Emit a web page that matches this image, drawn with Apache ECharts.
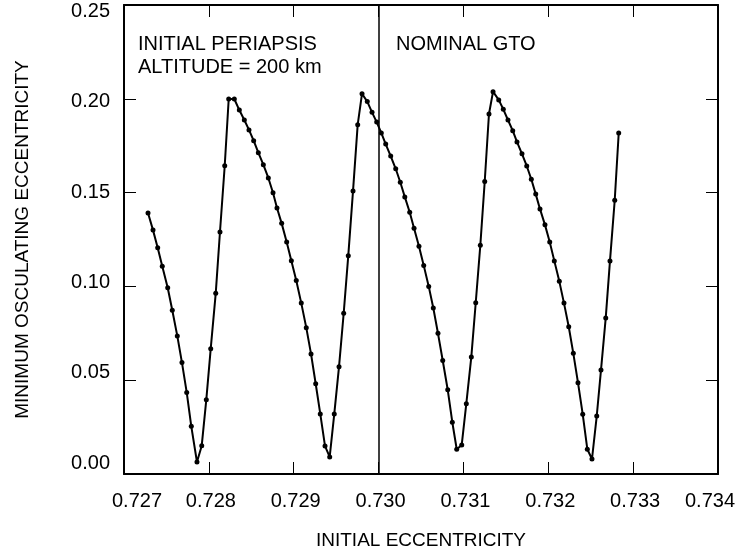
<!DOCTYPE html>
<html>
<head>
<meta charset="utf-8">
<script src="https://cdn.jsdelivr.net/npm/echarts@6/dist/echarts.min.js"></script>
<style>
  html, body { margin: 0; padding: 0; background: #fff; }
  #main { width: 740px; height: 554px; }
</style>
</head>
<body>
<div id="main"></div>
<script>
// initial eccentricity (x) and minimum osculating eccentricity (y)
var initEcc = [
  0.727283, 0.727342, 0.727397, 0.727451, 0.727515, 0.727569, 0.727628, 0.727683, 0.727739, 0.727793,
  0.727860, 0.727916, 0.727970, 0.728022, 0.728081, 0.728131, 0.728187, 0.728234, 0.728300, 0.728359,
  0.728418, 0.728473, 0.728528, 0.728583, 0.728642, 0.728701, 0.728756, 0.728803, 0.728858, 0.728917,
  0.728972, 0.729030, 0.729089, 0.729148, 0.729204, 0.729259, 0.729313, 0.729369, 0.729424, 0.729478,
  0.729534, 0.729589, 0.729643, 0.729699, 0.729754, 0.729805, 0.729867, 0.729923, 0.729978, 0.730032,
  0.730084, 0.730143, 0.730202, 0.730256, 0.730309, 0.730367, 0.730418, 0.730476, 0.730532, 0.730591,
  0.730645, 0.730700, 0.730756, 0.730815, 0.730869, 0.730921, 0.730980, 0.731034, 0.731093, 0.731145,
  0.731199, 0.731251, 0.731301, 0.731349, 0.731416, 0.731470, 0.731525, 0.731581, 0.731631, 0.731690,
  0.731746, 0.731800, 0.731852, 0.731902, 0.731961, 0.732017, 0.732071, 0.732130, 0.732185, 0.732241,
  0.732295, 0.732350, 0.732406, 0.732460, 0.732515, 0.732571, 0.732621, 0.732677, 0.732727, 0.732783,
  0.732830
];
var minEcc = [
  0.1391, 0.1300, 0.1206, 0.1107, 0.0993, 0.0873, 0.0736, 0.0594, 0.0435, 0.0254,
  0.0064, 0.0151, 0.0396, 0.0668, 0.0963, 0.1290, 0.1643, 0.1999, 0.1999, 0.1940,
  0.1887, 0.1834, 0.1777, 0.1713, 0.1649, 0.1578, 0.1499, 0.1418, 0.1336, 0.1237,
  0.1137, 0.1031, 0.0911, 0.0780, 0.0640, 0.0481, 0.0320, 0.0149, 0.0091, 0.0320,
  0.0572, 0.0857, 0.1164, 0.1509, 0.1862, 0.2027, 0.1985, 0.1928, 0.1876, 0.1818,
  0.1759, 0.1695, 0.1627, 0.1555, 0.1477, 0.1395, 0.1310, 0.1214, 0.1112, 0.1000,
  0.0885, 0.0750, 0.0605, 0.0449, 0.0276, 0.0132, 0.0155, 0.0375, 0.0624, 0.0913,
  0.1219, 0.1559, 0.1919, 0.2038, 0.1994, 0.1944, 0.1887, 0.1830, 0.1770, 0.1707,
  0.1642, 0.1571, 0.1492, 0.1413, 0.1328, 0.1237, 0.1136, 0.1027, 0.0911, 0.0785,
  0.0643, 0.0487, 0.0318, 0.0132, 0.0080, 0.0309, 0.0554, 0.0832, 0.1136, 0.1459,
  0.1818
];
var nominalGto = 0.73009;
var xRange = [0.727, 0.734], xStep = 0.001;
var yRange = [0, 0.25], yStep = 0.05;

var font = '"Liberation Sans", Arial, Helvetica, sans-serif';
var pts = initEcc.map(function (x, i) { return [x, minEcc[i]]; });

var axisLine = { show: true, onZero: false, lineStyle: { color: '#000', width: 2 } };
var axisTick = { show: true, inside: true, length: 12, lineStyle: { color: '#000', width: 1 } };
var lbl = { color: '#000', fontFamily: font, fontSize: 20 };

// the printed tick labels sit a little inward at the ends of each axis
function near(a, b) { return Math.abs(a - b) < 1e-9; }
function xLabel(v) {
  var s = v.toFixed(3);
  if (near(v, xRange[0])) return '{first|' + s + '}';
  if (near(v, xRange[1])) return '{last|' + s + '}';
  return '{n|' + s + '}';
}
function yLabel(v) {
  var s = v.toFixed(2);
  var k = Math.round(v / yStep);
  return '{y' + k + '|' + s + '}';
}
var yShift = [-11, -8, -4, 0, 3, 6];   // px, + is down
var yRich = {};
yShift.forEach(function (d, k) {
  yRich['y' + k] = Object.assign({}, lbl, { padding: d >= 0 ? [2 * d, 0, 0, 0] : [0, 0, -2 * d, 0] });
});

var chart = echarts.init(document.getElementById('main'));
chart.setOption({
  animation: false,
  backgroundColor: '#fff',
  grid: { left: 124, right: 22, top: 5, bottom: 80, outerBoundsMode: 'none', containLabel: false },
  xAxis: [
    {
      type: 'value', position: 'bottom', min: xRange[0], max: xRange[1], interval: xStep,
      name: 'INITIAL ECCENTRICITY', nameLocation: 'middle', nameGap: 57,
      nameTextStyle: { color: '#000', fontFamily: font, fontSize: 19 },
      axisLine: axisLine, axisTick: axisTick, splitLine: { show: false },
      axisLabel: Object.assign({}, lbl, { margin: 17, formatter: xLabel,
        rich: {
          n: Object.assign({}, lbl, { padding: [0, 0, 0, 4] }),
          first: Object.assign({}, lbl, { padding: [0, 0, 0, 26] }),
          last: Object.assign({}, lbl, { padding: [0, 16, 0, 0] })
        } })
    },
    {
      type: 'value', position: 'top', min: xRange[0], max: xRange[1], interval: xStep,
      axisLine: axisLine, axisTick: axisTick, splitLine: { show: false },
      axisLabel: { show: false }
    }
  ],
  yAxis: [
    {
      type: 'value', position: 'left', min: yRange[0], max: yRange[1], interval: yStep,
      name: 'MINIMUM OSCULATING ECCENTRICITY', nameLocation: 'middle', nameGap: 92,
      nameTextStyle: { color: '#000', fontFamily: font, fontSize: 19 },
      axisLine: axisLine, axisTick: axisTick, splitLine: { show: false },
      axisLabel: Object.assign({}, lbl, { margin: 14, formatter: yLabel, rich: yRich })
    },
    {
      type: 'value', position: 'right', min: yRange[0], max: yRange[1], interval: yStep,
      axisLine: axisLine, axisTick: axisTick, splitLine: { show: false },
      axisLabel: { show: false }
    }
  ],
  series: [{
    type: 'line',
    data: pts,
    xAxisIndex: 0, yAxisIndex: 0,
    symbol: 'circle', symbolSize: 5,
    lineStyle: { color: '#000', width: 2 },
    itemStyle: { color: '#000' },
    markLine: {
      silent: true, symbol: 'none',
      label: { show: false },
      lineStyle: { color: '#000', width: 1.5, type: 'solid' },
      data: [{ xAxis: nominalGto }]
    }
  }],
  graphic: [
    {
      type: 'text', left: 138, top: 33,
      style: { text: 'INITIAL PERIAPSIS\nALTITUDE = 200 km', fill: '#000',
        font: '20px ' + font, lineHeight: 23 }
    },
    {
      type: 'text', left: 396, top: 33,
      style: { text: 'NOMINAL GTO', fill: '#000', font: '20px ' + font, lineHeight: 23 }
    }
  ]
});
</script>
</body>
</html>
